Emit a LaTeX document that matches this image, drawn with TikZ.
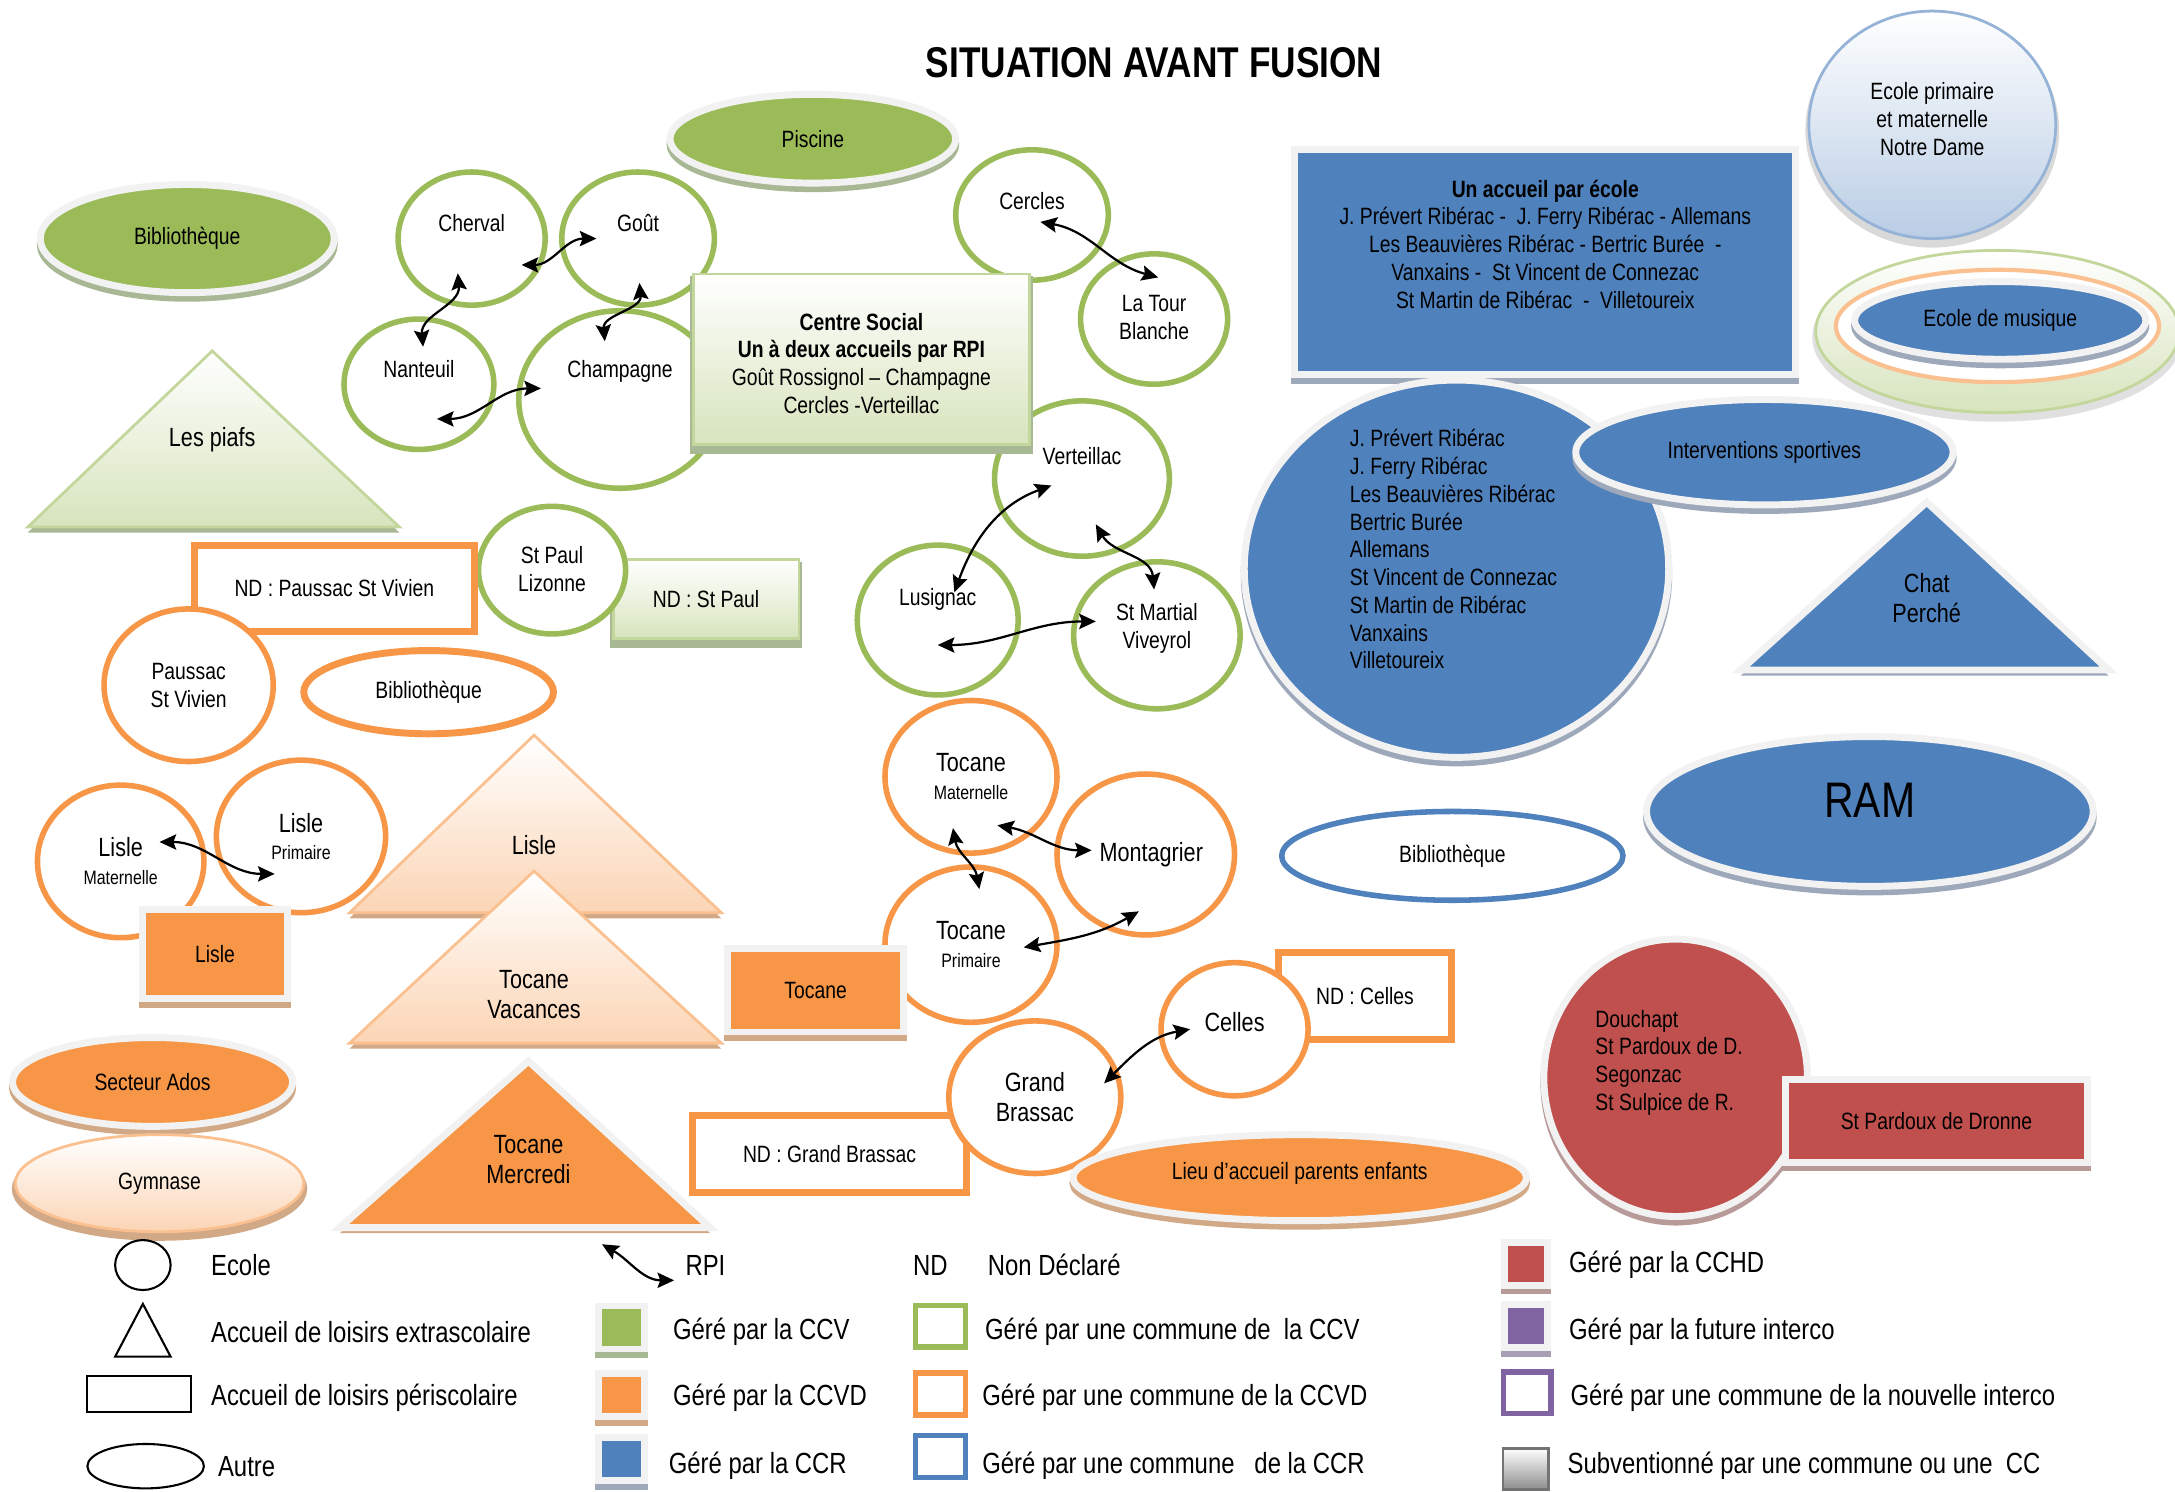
\documentclass[tikz,border=0pt]{standalone}
\usepackage{fontspec}
\setmainfont[FakeStretch=0.82]{Liberation Sans}
\usetikzlibrary{shapes.geometric,arrows.meta}
\definecolor{cgreen}{HTML}{9BBB59}
\definecolor{corange}{HTML}{F79646}
\definecolor{cblue}{HTML}{4F81BD}
\definecolor{cred}{HTML}{C0504D}
\definecolor{cpurple}{HTML}{8064A2}
\definecolor{lgreen}{HTML}{D7E4BD}
\definecolor{lgreenb}{HTML}{C3D69B}
\definecolor{lorange}{HTML}{FBD5B5}
\definecolor{lorangeb}{HTML}{FAC090}
\definecolor{lblue}{HTML}{B9CDE5}
\definecolor{lblueb}{HTML}{95B3D7}
\definecolor{gshadow}{HTML}{A9B894}
\definecolor{oshadow}{HTML}{D2A987}
\definecolor{bshadow}{HTML}{9DA9BA}
\definecolor{rshadow}{HTML}{B89A98}
\definecolor{pshadow}{HTML}{A89FB4}
\newcommand\stxt[1]{{\fontsize{14}{16}\selectfont #1}}
\begin{document}
\begin{tikzpicture}[x=1pt,y=-1pt,
 lt/.style={font=\fontsize{17}{20}\selectfont, align=center},
 ltb/.style={font=\fontsize{19}{22}\selectfont, align=center},
 lg/.style={font=\fontsize{21}{25}\selectfont, anchor=west, inner sep=0},
 ell/.style={ellipse, inner sep=0, align=center},
 box/.style={rectangle, inner sep=0, align=center},
 ring/.style={ell, draw=#1, line width=4, fill=white},
 wbord/.style={draw=black!5, line width=5},
 shd/.style={preaction={fill=#1, draw=#1, line width=5, transform canvas={yshift=-4pt}}},
 rpi/.style={{Stealth[length=12pt,width=11pt,inset=2pt]}-{Stealth[length=12pt,width=11pt,inset=2pt]}, line width=1.6},
 legsh/.style={box, draw=black, line width=1.5, fill=white},
]
\useasboundingbox (0,0) rectangle (1568,1075);
\fill[white] (0,0) rectangle (1568,1075);

% title
\node[font=\fontsize{31}{36}\selectfont\bfseries] (title) at (832,45) {SITUATION AVANT FUSION};

% ---------- CCV (green) ----------
\node[ell, fill=cgreen, wbord, shd=gshadow, minimum width=212, minimum height=78, lt] (bib1) at (135,172) {Bibliothèque};
\node[ell, fill=cgreen, wbord, shd=gshadow, minimum width=206, minimum height=64, lt] (piscine) at (586,100) {Piscine};

\node[ring=cgreen, minimum width=106, minimum height=96, label={[lt,yshift=11]center:Cherval}] (cherval) at (340,172) {};
\node[ring=cgreen, minimum width=110, minimum height=96, label={[lt,yshift=11]center:Goût}] (gout) at (460,172) {};
\node[ring=cgreen, minimum width=108, minimum height=94, label={[lt,yshift=11]center:Nanteuil}] (nanteuil) at (302,277) {};
\node[ring=cgreen, minimum width=146, minimum height=128, label={[lt,yshift=20]center:Champagne}] (champagne) at (447,288) {};
\node[ring=cgreen, minimum width=110, minimum height=94, label={[lt,yshift=10]center:Cercles}] (cercles) at (744,155) {};
\node[ring=cgreen, minimum width=106, minimum height=94, label={[lt,yshift=1]center:La Tour\\Blanche}] (latour) at (832,230) {};
\node[ring=cgreen, minimum width=126, minimum height=112, label={[lt,yshift=16]center:Verteillac}] (verteillac) at (780,345) {};
\node[ring=cgreen, minimum width=116, minimum height=108, label={[lt,yshift=15]center:Lusignac}] (lusignac) at (676,447) {};
\node[ring=cgreen, minimum width=120, minimum height=106, label={[lt,yshift=5]center:St Martial\\Viveyrol}] (stmartial) at (834,458) {};

\node[box, draw=lgreenb, line width=2, top color=white, bottom color=lgreen, shd=gshadow, minimum width=242, minimum height=123, label={[lt,yshift=-3]center:\textbf{Centre Social}\\\textbf{Un à deux accueils par RPI}\\Goût Rossignol -- Champagne\\Cercles -Verteillac}] (centre) at (621,259) {};

\fill[gshadow] (20,384) -- (153,257) -- (288,384) -- cycle;
\draw[lgreenb, line width=2, top color=white, bottom color=lgreen] (20,380) -- (153,253) -- (288,380) -- cycle;
\node[ltb] (piafs) at (153,317) {Les piafs};

\node[box, draw=lgreenb, line width=2, top color=white, bottom color=lgreen, shd=gshadow, minimum width=134, minimum height=57, lt] (ndstpaul) at (509,432) {ND : St Paul};
\node[ring=cgreen, minimum width=106, minimum height=92, label={[lt,yshift=1]center:St Paul\\Lizonne}] (stpaul) at (398,411) {};

% ---------- CCVD (orange) ----------
\node[box, draw=corange, line width=5, minimum width=202, minimum height=62, lt] (ndpaussac) at (241,424) {ND : Paussac St Vivien};
\node[ring=corange, minimum width=122, minimum height=110, lt] (paussac) at (136,494) {Paussac\\St Vivien};
\node[ell, draw=corange, line width=5, fill=white, minimum width=180, minimum height=60, lt] (bib2) at (309,499) {Bibliothèque};

\node[ring=corange, minimum width=120, minimum height=110, lt] (lislemat) at (87,621) {\fontsize{19}{22}\selectfont Lisle\\\stxt{Maternelle}};
\node[ring=corange, minimum width=122, minimum height=110, lt] (lisleprim) at (217,603) {\fontsize{19}{22}\selectfont Lisle\\\stxt{Primaire}};
\node[box, fill=corange, wbord, shd=oshadow, minimum width=104, minimum height=64, lt] (lislebox) at (155,688) {Lisle};

\fill[oshadow] (252,662) -- (385,534) -- (520,662) -- cycle;
\draw[lorangeb, line width=2, top color=white, bottom color=lorange] (252,658) -- (385,530) -- (520,658) -- cycle;
\node[ltb] (lisletri) at (385,609) {Lisle};
\fill[oshadow] (252,756) -- (385,632) -- (520,756) -- cycle;
\draw[lorangeb, line width=2, top color=white, bottom color=lorange] (252,752) -- (385,628) -- (520,752) -- cycle;
\node[ltb] (tocvac) at (385,717) {Tocane\\Vacances};
\fill[oshadow] (245,889) -- (381,769) -- (512,889) -- cycle;
\draw[black!5, line width=5, fill=corange] (245,885) -- (381,765) -- (512,885) -- cycle;
\node[ltb] (tocmer) at (381,836) {Tocane\\Mercredi};

\node[ell, fill=corange, wbord, shd=oshadow, minimum width=202, minimum height=64, lt] (ados) at (110,780) {Secteur Ados};
\node[ell, draw=lorangeb, line width=2, top color=white, bottom color=lorange, shd=oshadow, minimum width=208, minimum height=70, lt] (gymnase) at (115,853) {Gymnase};

\node[ring=corange, minimum width=128, minimum height=116, label={[ltb,xshift=4]center:Montagrier}] (montagrier) at (826,616) {};
\node[ring=corange, minimum width=124, minimum height=110, lt] (tocmat) at (700,560) {\fontsize{19}{22}\selectfont Tocane\\\stxt{Maternelle}};
\node[ring=corange, minimum width=124, minimum height=112, lt] (tocprim) at (700,681) {\fontsize{19}{22}\selectfont Tocane\\\stxt{Primaire}};
\node[box, fill=corange, wbord, shd=oshadow, minimum width=127, minimum height=60, lt] (tocbox) at (588,714) {Tocane};

\node[box, draw=corange, line width=5, fill=white, minimum width=125, minimum height=63, lt] (ndcelles) at (984,718) {ND : Celles};
\node[ring=corange, minimum width=106, minimum height=96, label={[ltb,yshift=5]center:Celles}] (celles) at (890,742) {};
\node[box, draw=corange, line width=5, fill=white, minimum width=197, minimum height=56, lt] (ndgb) at (598,832) {ND : Grand Brassac};
\node[ring=corange, minimum width=124, minimum height=110, ltb] (grandbrassac) at (746,791) {Grand\\Brassac};
\node[ell, fill=corange, wbord, shd=oshadow, minimum width=327, minimum height=62, label={[lt,yshift=3]center:Lieu d'accueil parents enfants}] (lieu) at (937,849) {};

% ---------- CCR (blue) ----------
\node[box, fill=cblue, wbord, shd=bshadow, minimum width=361, minimum height=162, label={[lt,yshift=13]center:\textbf{Un accueil par école}\\J. Prévert Ribérac -\ \ J. Ferry Ribérac - Allemans\\Les Beauvières Ribérac - Bertric Burée\ \ -\\Vanxains -\ \ St Vincent de Connezac\\St Martin de Ribérac\ \ -\ \ Villetoureix}] (accueil) at (1114,189) {};
\node[ell, fill=cblue, wbord, shd=bshadow, minimum width=306, minimum height=272] (bigcircle) at (1050,410) {};
\node[lt, align=left, anchor=west, inner sep=0] (bigtxt) at (973,396) {J. Prévert Ribérac\\J. Ferry Ribérac\\Les Beauvières Ribérac\\Bertric Burée\\Allemans\\St Vincent de Connezac\\St Martin de Ribérac\\Vanxains\\Villetoureix};
\fill[bshadow] (1255,487) -- (1389,366) -- (1520,487) -- cycle;
\draw[black!5, line width=5, fill=cblue] (1255,483) -- (1389,362) -- (1520,483) -- cycle;
\node[ltb] (chat) at (1389,431) {Chat\\Perché};
\node[ell, fill=cblue, wbord, shd=bshadow, minimum width=272, minimum height=76, lt] (interv) at (1272,326) {Interventions sportives};

\node[ell, draw=lblueb, line width=2, top color=white, bottom color=lblue, shd=black!15, minimum width=178, minimum height=164, label={[lt,yshift=4]center:Ecole primaire\\et maternelle\\Notre Dame}] (notredame) at (1393,90) {};

\node[ell, draw=lgreenb, line width=2, top color=white, bottom color=lgreen, shd=black!12, minimum width=262, minimum height=117] (musouter) at (1440,239) {};
\node[ell, draw=lorangeb, line width=3, fill=white, minimum width=233, minimum height=81] (musmid) at (1440,235) {};
\node[ell, fill=cblue, wbord, shd=bshadow, minimum width=210, minimum height=56, lt] (musique) at (1442,231) {Ecole de musique};

\node[ell, fill=cblue, wbord, shd=bshadow, minimum width=322, minimum height=108, label={[font=\fontsize{36}{40}\selectfont, yshift=8]center:RAM}] (ram) at (1348,585) {};
\node[ell, draw=cblue, line width=4, fill=white, minimum width=246, minimum height=64, lt] (bib3) at (1047,617) {Bibliothèque};

% ---------- CCHD (red) ----------
\node[ell, fill=cred, wbord, shd=rshadow, minimum width=190, minimum height=200] (douchapt) at (1208,777) {};
\node[lt, align=left, anchor=west, inner sep=0] (douchtxt) at (1150,766) {Douchapt\\St Pardoux de D.\\Segonzac\\St Sulpice de R.};
\node[box, fill=cred, wbord, shd=rshadow, minimum width=218, minimum height=60, lt] (stpardoux) at (1396,808) {St Pardoux de Dronne};

% ---------- RPI arrows ----------
\draw[rpi] ([shift={(36,19)}]cherval.center) to[out=0,in=180] ([shift={(-30,0)}]gout.center);
\draw[rpi] ([shift={(-10,25)}]cherval.center) to[out=-85,in=95] ([shift={(3,-27)}]nanteuil.center);
\draw[rpi] ([shift={(1,32)}]gout.center) to[out=-85,in=95] ([shift={(-11,-42)}]champagne.center);
\draw[rpi] ([shift={(13,25)}]nanteuil.center) to[out=0,in=180] ([shift={(-57,-8)}]champagne.center);
\draw[rpi] ([shift={(6,5)}]cercles.center) to[out=-10,in=165] ([shift={(3,-30)}]latour.center);
\draw[rpi] ([shift={(-22,5)}]verteillac.center) to[out=200,in=70] ([shift={(12,-20)}]lusignac.center);
\draw[rpi] ([shift={(10,33)}]verteillac.center) to[out=-60,in=95] ([shift={(-2,-33)}]stmartial.center);
\draw[rpi] ([shift={(0,18)}]lusignac.center) to[out=0,in=180] ([shift={(-44,-10)}]stmartial.center);
\draw[rpi] ([shift={(28,-14)}]lislemat.center) to[out=0,in=180] ([shift={(-19,27)}]lisleprim.center);
\draw[rpi] ([shift={(-13,37)}]tocmat.center) to[out=-80,in=100] ([shift={(6,-40)}]tocprim.center);
\draw[rpi] ([shift={(19,35)}]tocmat.center) to[out=-10,in=180] ([shift={(-39,-3)}]montagrier.center);
\draw[rpi] ([shift={(38,2)}]tocprim.center) to[out=10,in=210] ([shift={(-5,41)}]montagrier.center);
\draw[rpi] ([shift={(50,-10)}]grandbrassac.center) to[out=45,in=190] ([shift={(-32,0)}]celles.center);

% ---------- legend ----------
\node[legsh, ellipse, minimum width=40, minimum height=36] (lgecole) at (103,912) {};
\node[lg] (tecole) at (152,912) {Ecole};
\draw[black, line width=1.5, fill=white] (83,978) -- (103,940) -- (123,978) -- cycle;
\node[lg] (textra) at (152,960) {Accueil de loisirs extrascolaire};
\node[legsh, minimum width=75, minimum height=26] (lgrect) at (100,1005) {};
\node[lg] (tperi) at (152,1008) {Accueil de loisirs périscolaire};
\node[legsh, ellipse, minimum width=84, minimum height=32] (lgautre) at (105,1057) {};
\node[lg] (tautre) at (157,1057) {Autre};

\node[lg] (trpi) at (494,912) {RPI};
\draw[rpi] ([shift={(-60,-15)}]trpi.west) to[out=-30,in=180] ([shift={(-8,11)}]trpi.west);
\node[lg] (tnd) at (658,912) {ND};
\node[lg] (tnondecl) at (712,912) {Non Déclaré};

\node[box, fill=cgreen, wbord, shd=gshadow, minimum width=33, minimum height=31] (sccv) at (448,957) {};
\node[lg] (tccv) at (485,960) {Géré par la CCV};
\node[box, fill=corange, wbord, shd=oshadow, minimum width=33, minimum height=31] (sccvd) at (448,1006) {};
\node[lg] (tccvd) at (485,1008) {Géré par la CCVD};
\node[box, fill=cblue, wbord, shd=bshadow, minimum width=33, minimum height=31] (sccr) at (448,1052) {};
\node[lg] (tccr) at (482,1057) {Géré par la CCR};

\node[box, draw=cgreen, line width=4, fill=white, minimum width=36, minimum height=30] (cccv) at (678,956) {};
\node[lg] (tcccv) at (710,960) {Géré par une commune de\ \ la CCV};
\node[box, draw=corange, line width=4, fill=white, minimum width=36, minimum height=30] (cccvd) at (678,1005) {};
\node[lg] (tcccvd) at (708,1008) {Géré par une commune de la CCVD};
\node[box, draw=cblue, line width=4, fill=white, minimum width=36, minimum height=30] (cccr) at (678,1050) {};
\node[lg] (tcccr) at (708,1057) {Géré par une commune\ \ \ de la CCR};

\node[box, fill=cred, wbord, shd=rshadow, minimum width=31, minimum height=31] (scchd) at (1100,911) {};
\node[lg] (tcchd) at (1131,912) {Géré par la CCHD};
\node[box, fill=cpurple, wbord, shd=pshadow, minimum width=31, minimum height=31] (sfut) at (1100,956) {};
\node[lg] (tfut) at (1131,960) {Géré par la future interco};
\node[box, draw=cpurple, line width=4, fill=white, minimum width=34, minimum height=30] (cnouv) at (1101,1004) {};
\node[lg] (tnouv) at (1132,1008) {Géré par une commune de la nouvelle interco};
\node[box, draw=black!55, line width=2, top color=white, bottom color=black!45, minimum width=33, minimum height=30] (ssub) at (1100,1059) {};
\node[lg] (tsub) at (1130,1057) {Subventionné par une commune ou une\ \ CC};
\end{tikzpicture}
\end{document}
